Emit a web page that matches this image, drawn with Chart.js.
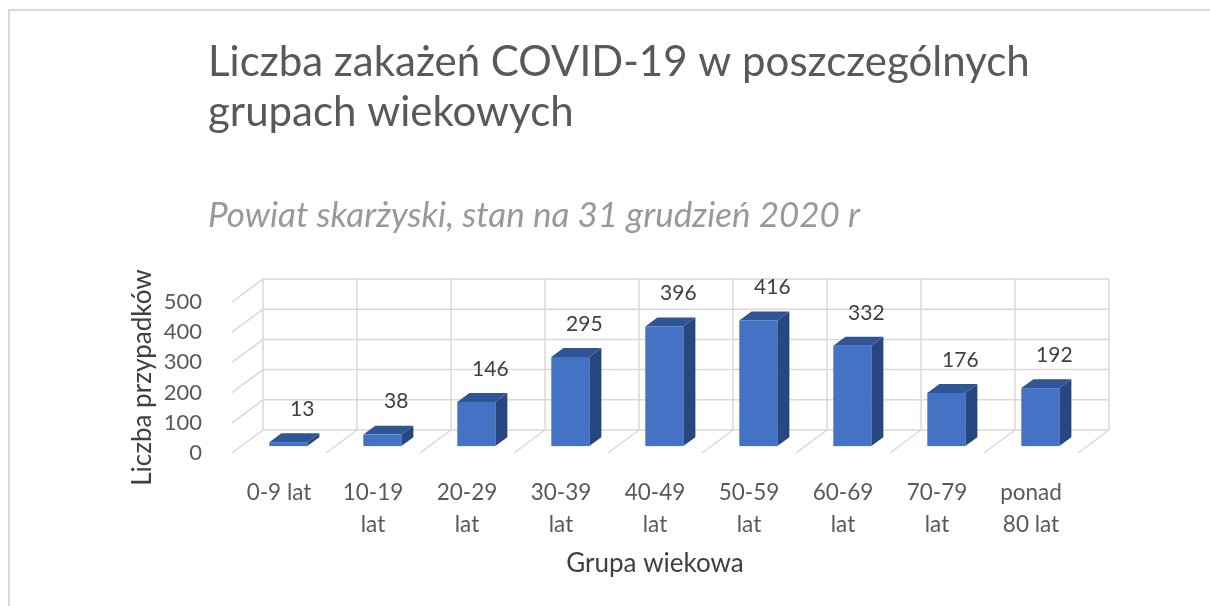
<!DOCTYPE html>
<html>
<head>
<meta charset="utf-8">
<script src="https://cdn.jsdelivr.net/npm/chart.js@4"></script>
<style>
  html, body { margin: 0; padding: 0; background: #fff; }
  #wrap { width: 1210px; height: 606px; position: relative; }
</style>
</head>
<body>
<div id="wrap"><canvas id="myChart" width="1210" height="606"></canvas></div>
<script>
// data
const titleLines = ['Liczba zakażeń COVID-19 w poszczególnych', 'grupach wiekowych'];
const subtitleText = 'Powiat skarżyski, stan na 31 grudzień 2020 r';
const ageGroups = ['0-9 lat', ['10-19', 'lat'], ['20-29', 'lat'], ['30-39', 'lat'], ['40-49', 'lat'],
                   ['50-59', 'lat'], ['60-69', 'lat'], ['70-79', 'lat'], ['ponad', '80 lat']];
const cases = [13, 38, 146, 295, 396, 416, 332, 176, 192];
const yMax = 500;
const yStep = 100;

// 3d look: offset from front plane to back wall
const DX = 31, DY = -23;
const BAR_FRONT = 0.3, BAR_BACK = 0.69;
const FONT = 'Lato, "Open Sans", sans-serif';

const frame3d = {
  id: 'frame3d',
  beforeDraw(chart) {
    const ctx = chart.ctx;
    ctx.save();
    // outer border
    ctx.strokeStyle = '#d9d9d9';
    ctx.lineWidth = 2;
    ctx.beginPath();
    ctx.moveTo(9, 606); ctx.lineTo(9, 10); ctx.lineTo(1210, 10);
    ctx.stroke();
    // titles
    ctx.fillStyle = '#595959';
    ctx.font = '42px ' + FONT;
    ctx.textBaseline = 'alphabetic';
    ctx.fillText(titleLines[0], 208, 76);
    ctx.fillText(titleLines[1], 208, 126);
    ctx.fillStyle = '#999999';
    ctx.font = 'italic 35px ' + FONT;
    ctx.fillText(subtitleText, 208, 227);
    ctx.restore();
  },
  beforeDatasetsDraw(chart) {
    const ctx = chart.ctx;
    const y = chart.scales.y;
    const left = chart.chartArea.left, right = chart.chartArea.right;
    const y0 = y.getPixelForValue(0), yTop = y.getPixelForValue(yMax);
    const catW = (right - left) / ageGroups.length;
    ctx.save();
    ctx.strokeStyle = '#d9d9d9';
    ctx.lineWidth = 1.5;
    ctx.beginPath();
    for (let v = 0; v <= yMax; v += yStep) {
      const py = y.getPixelForValue(v);
      // side wall
      ctx.moveTo(left, py); ctx.lineTo(left + DX, py + DY);
      // back wall
      ctx.lineTo(right + DX, py + DY);
    }
    for (let i = 0; i <= ageGroups.length; i++) {
      const px = left + i * catW;
      ctx.moveTo(px + DX, yTop + DY); ctx.lineTo(px + DX, y0 + DY);
      // floor
      ctx.moveTo(px, y0); ctx.lineTo(px + DX, y0 + DY);
    }
    ctx.stroke();
    ctx.restore();
  },
  afterDatasetsDraw(chart) {
    const ctx = chart.ctx;
    const meta = chart.getDatasetMeta(0);
    const fx = DX * BAR_FRONT, fy = DY * BAR_FRONT;
    const bx = DX * (BAR_BACK - BAR_FRONT), by = DY * (BAR_BACK - BAR_FRONT);
    ctx.save();
    meta.data.forEach((el, i) => {
      const p = el.getProps(['x', 'y', 'base', 'width'], true);
      const xl = p.x - p.width / 2 + fx, xr = p.x + p.width / 2 + fx;
      const yt = p.y + fy, yb = p.base + fy;
      // side
      ctx.fillStyle = '#284780';
      ctx.beginPath();
      ctx.moveTo(xr, yt); ctx.lineTo(xr + bx, yt + by); ctx.lineTo(xr + bx, yb + by); ctx.lineTo(xr, yb);
      ctx.closePath(); ctx.fill();
      // top
      ctx.fillStyle = '#2f5597';
      ctx.beginPath();
      ctx.moveTo(xl, yt); ctx.lineTo(xr, yt); ctx.lineTo(xr + bx, yt + by); ctx.lineTo(xl + bx, yt + by);
      ctx.closePath(); ctx.fill();
      // front
      ctx.fillStyle = '#4472c4';
      ctx.fillRect(xl, yt, xr - xl, yb - yt);
      // value label
      ctx.fillStyle = '#404040';
      ctx.font = '21px ' + FONT;
      ctx.textAlign = 'center';
      ctx.textBaseline = 'middle';
      ctx.fillText(String(cases[i]), p.x + fx + 14, yt - 33);
    });
    ctx.restore();
  }
};

const ctx = document.getElementById('myChart').getContext('2d');
const myChart = new Chart(ctx, {
  type: 'bar',
  data: {
    labels: ageGroups,
    datasets: [{
      label: 'Liczba przypadków',
      data: cases,
      backgroundColor: 'rgba(0,0,0,0)',
      borderWidth: 0,
      categoryPercentage: 1,
      barPercentage: 38 / 94
    }]
  },
  options: {
    responsive: false,
    animation: false,
    layout: { padding: { left: 123, right: 132, top: 302, bottom: 23 } },
    plugins: {
      legend: { display: false },
      tooltip: { enabled: false }
    },
    scales: {
      x: {
        grid: { display: false },
        border: { display: false },
        ticks: {
          color: '#595959',
          font: { family: FONT, size: 22.5, lineHeight: 1.4 },
          padding: 16,
          maxRotation: 0,
          autoSkip: false
        },
        title: {
          display: true,
          text: 'Grupa wiekowa',
          color: '#404040',
          font: { family: FONT, size: 26 },
          padding: { top: 4, bottom: 4 }
        },
        afterFit(scale) { scale.height = 130; }
      },
      y: {
        min: 0,
        max: yMax,
        grid: { display: false },
        border: { display: false },
        ticks: {
          stepSize: yStep,
          color: '#595959',
          font: { family: FONT, size: 22 },
          padding: 22
        },
        title: {
          display: true,
          text: 'Liczba przypadków',
          color: '#404040',
          font: { family: FONT, size: 26 },
          padding: { top: 4, bottom: 4 }
        },
        afterFit(scale) { scale.width = 109; }
      }
    }
  },
  plugins: [frame3d]
});
</script>
</body>
</html>
